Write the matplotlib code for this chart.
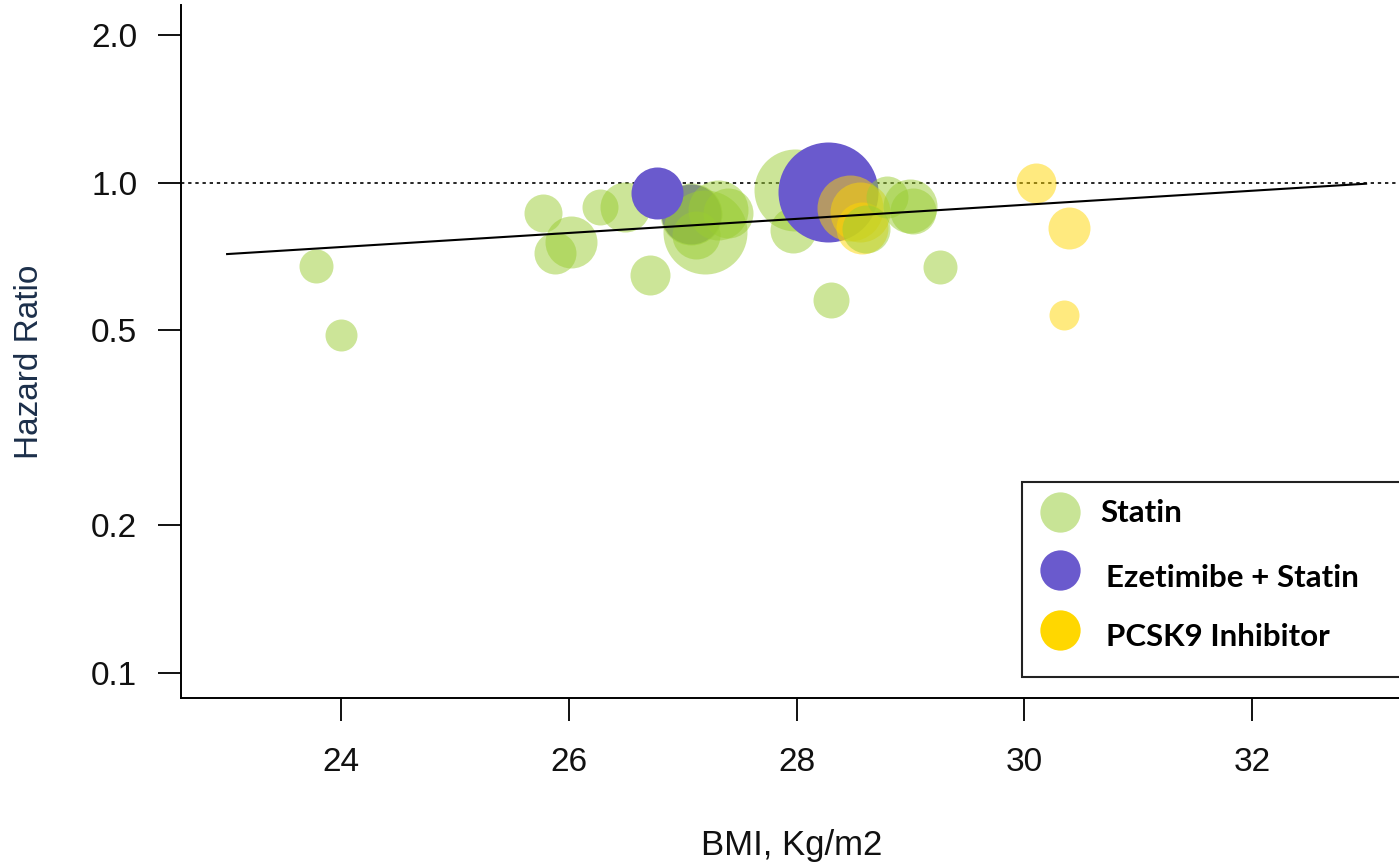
# bubble plot of hazard ratio against mean BMI, one bubble per trial
import numpy as np
import matplotlib
matplotlib.use('Agg')
import matplotlib.pyplot as plt
from matplotlib.patches import Rectangle
from matplotlib.lines import Line2D

plt.rcParams['font.family'] = ['Liberation Sans', 'DejaVu Sans']

# trials in drawing order: BMI, hazard ratio, relative weight, drug class
bmi = [23.78, 24.00, 25.77, 25.88, 26.02, 26.27, 26.49, 26.71, 27.99, 27.97, 28.30, 29.26,
       27.07, 28.28,
       27.07, 27.20, 27.31, 27.40, 27.12,
       26.77,
       28.47, 28.56, 28.57, 30.10, 30.39, 30.35,
       28.61, 28.79, 29.00, 29.02]
hr = [0.675, 0.488, 0.867, 0.718, 0.756, 0.891, 0.890, 0.647, 0.965, 0.800, 0.576, 0.672,
      0.862, 0.956,
      0.862, 0.793, 0.879, 0.867, 0.782,
      0.952,
      0.887, 0.871, 0.807, 1.000, 0.807, 0.537,
      0.806, 0.934, 0.895, 0.875]
weight = [17, 16, 19, 21, 26, 18, 25, 20, 41, 23, 18, 17,
          30, 50,
          31, 42, 30, 25, 24,
          26,
          33, 30, 26, 20, 21, 15,
          24, 21, 27, 23]
drug = ['Statin'] * 12 + ['Ezetimibe + Statin'] * 2 + ['Statin'] * 5 + \
       ['Ezetimibe + Statin'] + ['PCSK9 Inhibitor'] * 6 + ['Statin'] * 4

# meta-regression fit (log HR linear in BMI)
bmi_fit = [23.0, 33.0]
hr_fit = [0.715, 0.995]

labels = ['Statin', 'Ezetimibe + Statin', 'PCSK9 Inhibitor']
colors = {'Statin': ('yellowgreen', 0.5),
          'Ezetimibe + Statin': ('slateblue', 1.0),
          'PCSK9 Inhibitor': ('gold', 0.5)}
legend_colors = ['#c8e496', 'slateblue', 'gold']

W, H = 1399, 868
fig = plt.figure(figsize=(W / 100, H / 100), dpi=100)
left, right, top, bottom = 181, 1420, 5, 698
ax = fig.add_axes([left / W, 1 - bottom / H, (right - left) / W, (bottom - top) / H])

# bubbles, one at a time so the stacking order follows the list
for x, y, w, d in zip(bmi, hr, weight, drug):
    c, a = colors[d]
    ax.scatter([x], [y], s=(2 * w * 0.72) ** 2, color=c, alpha=a, linewidths=0, zorder=3)

ax.axhline(1.0, color='black', lw=1.2, dashes=(2, 2.3), zorder=2)
ax.plot(bmi_fit, hr_fit, color='black', lw=1.5, zorder=4)

ax.set_yscale('log')
ax.set_xlim(24 + (left - 341) / 113.9, 24 + (right - 341) / 113.9)
ax.set_ylim(10 ** (-1 - 25 / 490), 10 ** (np.log10(2) + 30 / 490))
yt = [0.1, 0.2, 0.5, 1.0, 2.0]
ax.set_yticks(yt)
ax.set_yticklabels(['%.1f' % v for v in yt])
ax.yaxis.set_minor_locator(matplotlib.ticker.NullLocator())
ax.set_xticks([24, 26, 28, 30, 32])

for s in ['top', 'right']:
    ax.spines[s].set_visible(False)
for s in ['left', 'bottom']:
    ax.spines[s].set_linewidth(1.4)
ax.tick_params(axis='both', length=16.5, width=1.4, labelsize=24, colors='#111111')
ax.tick_params(axis='x', pad=19)
ax.tick_params(axis='y', pad=15)

ax.set_xlabel('BMI, Kg/m2', fontsize=25, color='#111111')
ax.xaxis.set_label_coords((792 - left) / (right - left), -(845 - bottom) / (bottom - top))
ax.xaxis.label.set_va('center')
ax.set_ylabel('Hazard Ratio', fontsize=24, color='#1c2f4a')
ax.yaxis.set_label_coords(-(left - 30) / (right - left), (bottom - 362) / (bottom - top))
ax.yaxis.label.set_va('center')

# legend box drawn by hand
fig.add_artist(Rectangle((1022 / W, 1 - 677 / H), (1420 - 1022) / W, (677 - 482) / H,
                         transform=fig.transFigure, facecolor='white',
                         edgecolor='#222222', lw=1.5, zorder=5))
rows = [512, 570, 630]
text_x = [1100, 1106, 1106]
text_y = [513, 578, 637]
for lab, col, ry, tx, ty in zip(labels, legend_colors, rows, text_x, text_y):
    fig.add_artist(Line2D([1060 / W], [1 - ry / H], marker='o', markersize=29,
                          markerfacecolor=col, markeredgewidth=0, linestyle='none',
                          transform=fig.transFigure, zorder=6))
    fig.text(tx / W, 1 - ty / H, lab, fontsize=22.5, fontweight='bold', family='Lato',
             va='center', ha='left', zorder=6)

fig.savefig('out.png', dpi=100)
